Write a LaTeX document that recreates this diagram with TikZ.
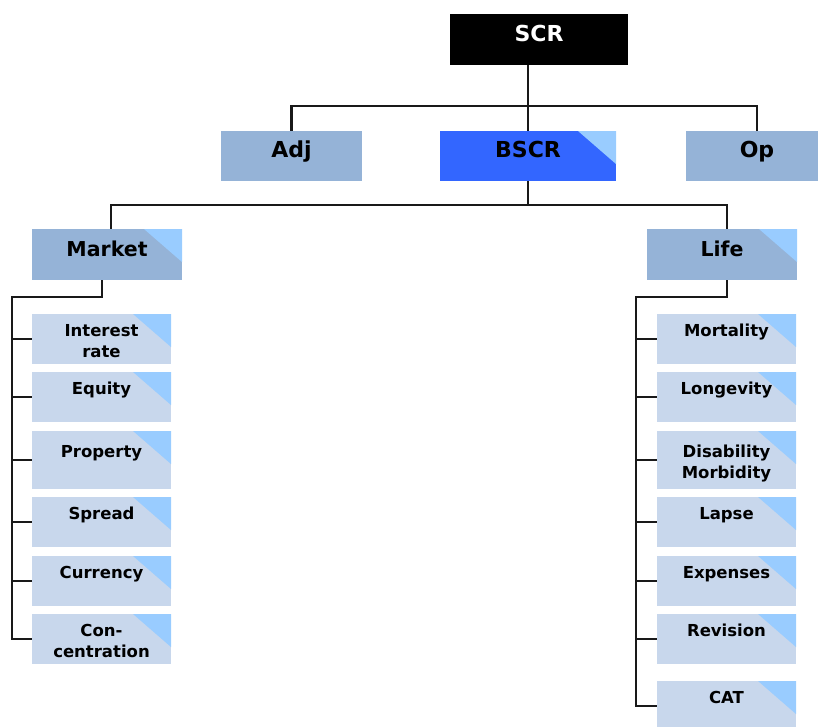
\documentclass[tikz,border=0pt]{standalone}
\usepackage{fontspec}
\setmainfont{DejaVu Sans}
\usetikzlibrary{positioning}
\definecolor{boxblue}{RGB}{149,179,215}
\definecolor{leafblue}{RGB}{200,215,236}
\definecolor{tipblue}{RGB}{153,204,255}
\definecolor{bscrblue}{RGB}{51,102,255}
\newcommand\twolines[2]{\rule{0pt}{22pt}#1\\\strut#2}
\tikzset{
  box/.style={rectangle, inner sep=0pt, align=center, text height=15pt, text depth=12pt,
    font=\bfseries\fontsize{22}{26}\selectfont},
  tip/.style={path picture={\fill[tipblue] (path picture bounding box.north east)
    -- ++(-38pt,0pt) -- ++(38pt,-33pt) -- cycle;}},
  top/.style={box, fill=black, text=white, minimum width=178pt, minimum height=51pt},
  mid/.style={box, fill=boxblue, minimum width=141pt, minimum height=50pt},
  sub/.style={box, tip, fill=boxblue, minimum width=150pt, minimum height=51pt,
    font=\bfseries\fontsize{20.5}{24}\selectfont},
  leaf/.style={rectangle, inner sep=0pt, align=center, tip, fill=leafblue,
    minimum width=139pt, minimum height=50pt,
    font=\bfseries\fontsize{16.5}{21}\selectfont},
  wire/.style={draw=black!90, line width=2.6pt}
}
\begin{document}
\begin{tikzpicture}[x=1pt,y=-1pt]
  \useasboundingbox (0,0) rectangle (818,726);
  \clip (0,0) rectangle (818,726);
  \node[top] (SCR) at (539,39.5) {SCR};
  \node[mid] (Adj) at (291.5,156) {Adj};
  \node[mid, tip, fill=bscrblue, minimum width=176pt] (BSCR) at (528,156) {BSCR};
  \node[mid, minimum width=142pt] (Op) at (757,156) {Op};
  \node[sub] (Market) at (107,254.5) {Market};
  \node[sub] (Life) at (722,254.5) {Life};
  \foreach \n/\y/\t in {mk1/339/{\twolines{Interest}{rate}}, mk2/397/{\twolines{Equity}{}},
      mk4/522/{\twolines{Spread}{}}, mk5/581/{\twolines{Currency}{}},
      mk6/639/{\twolines{Con-}{centration}}}
    \node[leaf] (\n) at (101.5,\y) {\t};
  \node[leaf, minimum height=58pt] (mk3) at (101.5,460) {\twolines{Property}{}};
  \foreach \n/\y/\t in {lf1/339/{\twolines{Mortality}{}}, lf2/397/{\twolines{Longevity}{}},
      lf4/522/{\twolines{Lapse}{}}, lf5/581/{\twolines{Expenses}{}},
      lf6/639/{\twolines{Revision}{}}, lf7/706/{\twolines{CAT}{}}}
    \node[leaf] (\n) at (726.5,\y) {\t};
  \node[leaf, minimum height=58pt] (lf3) at (726.5,460) {\twolines{Disability}{Morbidity}};
  \coordinate (mkbar) at (12,297);
  \coordinate (lfbar) at (636,297);
  \draw[wire] (SCR.south -| BSCR.north) -- (BSCR.north);
  \draw[wire] (Adj.north) -- ++(0,-25) -| (Op.north);
  \draw[wire] (BSCR.south) -- ++(0,24);
  \draw[wire] ([xshift=4pt]Market.north) -- ++(0,-24) -| ([xshift=5pt]Life.north);
  \draw[wire] ([xshift=-5pt]Market.south) |- (mkbar) |- (mk6.west);
  \draw[wire] ([xshift=5pt]Life.south) |- (lfbar) |- (lf7.west);
  \foreach \i in {1,...,5}
    \draw[wire] (mk\i.west) -- (mk\i.west -| mkbar);
  \foreach \i in {1,...,6}
    \draw[wire] (lf\i.west) -- (lf\i.west -| lfbar);
\end{tikzpicture}
\end{document}
